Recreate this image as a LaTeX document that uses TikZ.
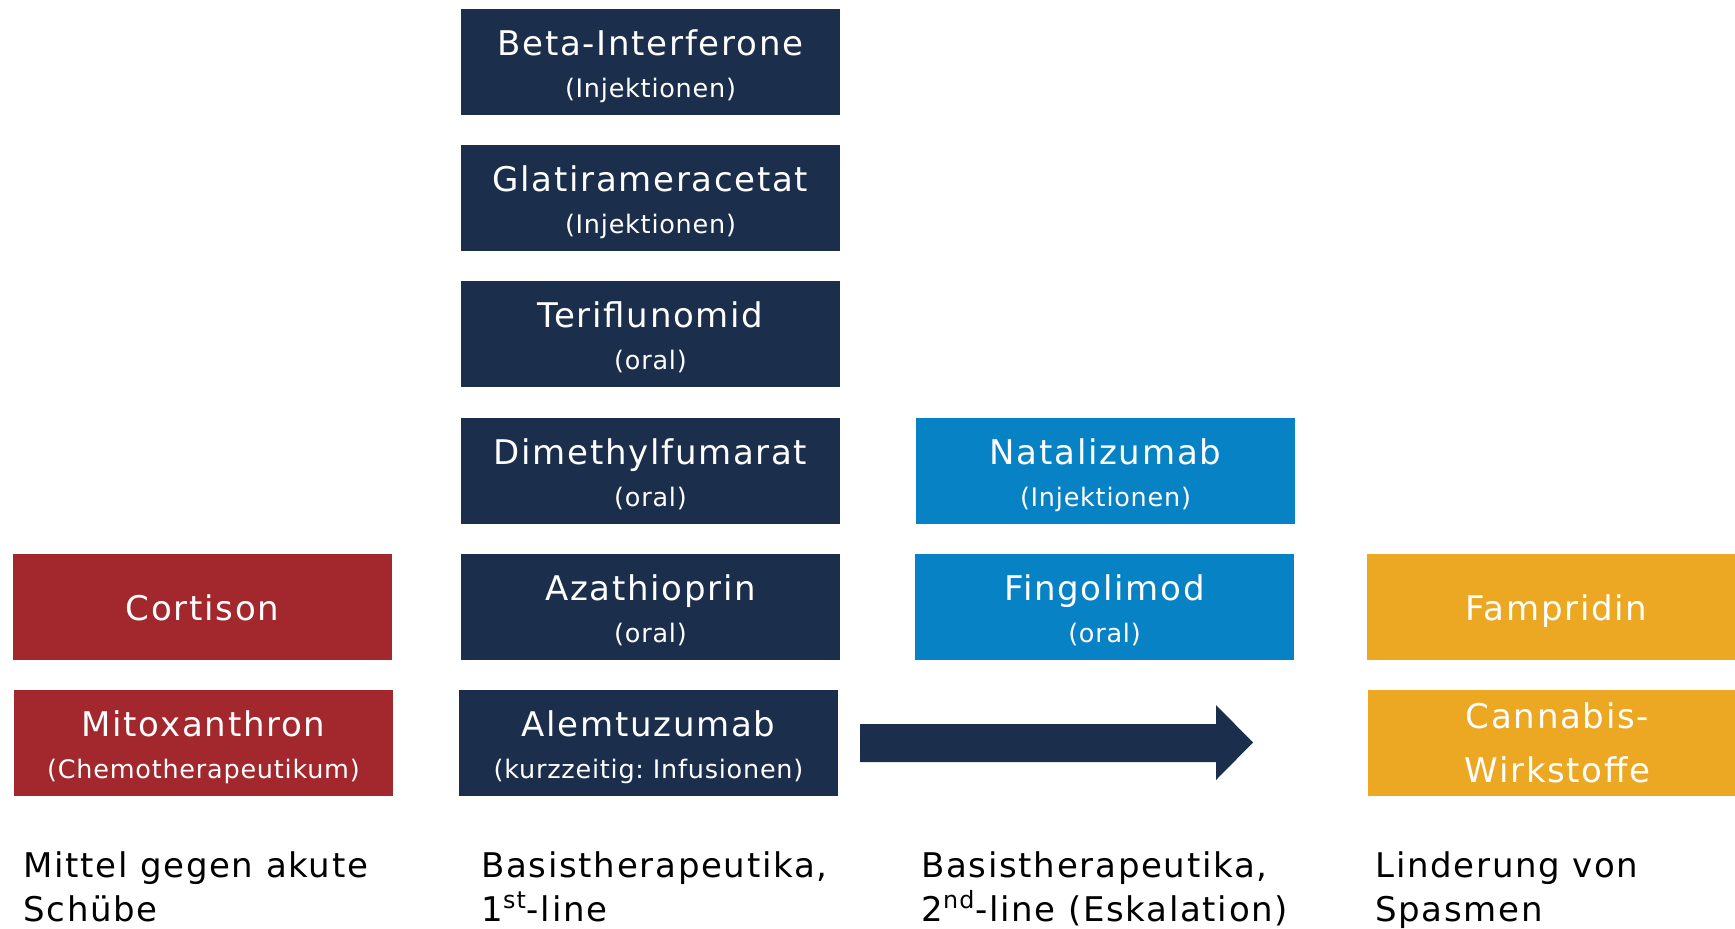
\documentclass[tikz,border=0pt]{standalone}
\usepackage{fontspec}
\setmainfont{DejaVu Sans}
\newfontfamily\boxfont[LetterSpace=5]{DejaVu Sans}
\newfontfamily\subfont[LetterSpace=3]{DejaVu Sans}
\newfontfamily\labfont[LetterSpace=5]{DejaVu Sans}
\usetikzlibrary{calc}
\definecolor{navy}{RGB}{27,46,75}
\definecolor{msred}{RGB}{163,40,45}
\definecolor{msblue}{RGB}{7,130,197}
\definecolor{msorange}{RGB}{236,168,34}
\begin{document}
\begin{tikzpicture}[x=0.5pt,y=-0.5pt,
  box/.style={rectangle, anchor=north west, minimum width=189.5pt, minimum height=53pt, inner sep=0pt, outer sep=0pt},
  navybox/.style={box, fill=navy},
  redbox/.style={box, fill=msred},
  bluebox/.style={box, fill=msblue},
  orangebox/.style={box, fill=msorange},
  title/.style={text=white, font=\boxfont\fontsize{17}{27}\selectfont, anchor=base, inner sep=0pt, align=center},
  sub/.style={text=white, font=\subfont\fontsize{12.75}{14}\selectfont, anchor=base, inner sep=0pt},
  lab/.style={text=black, font=\labfont\fontsize{17}{22}\selectfont, anchor=base west, inner sep=0pt, align=left}
]
\useasboundingbox (0,0) rectangle (1735,928);

% red column
\node[redbox] (cort) at (13,554) {};
\node[redbox] (mito) at (14,690) {};
\node[title] (cort-t) at ($(cort.north)+(0,66)$) {Cortison};
\node[title] (mito-t) at ($(mito.north)+(0,46)$) {Mitoxanthron};
\node[sub] (mito-s) at ($(mito.north)+(0,88)$) {(Chemotherapeutikum)};

% navy column
\node[navybox] (beta) at (461,9) {};
\node[navybox] (glat) at (461,145) {};
\node[navybox] (teri) at (461,281) {};
\node[navybox] (dime) at (461,418) {};
\node[navybox] (azat) at (461,554) {};
\node[navybox] (alem) at (459,690) {};
\node[title] (beta-t) at ($(beta.north)+(0,46)$) {Beta-Interferone};
\node[sub] (beta-s) at ($(beta.north)+(0,88)$) {(Injektionen)};
\node[title] (glat-t) at ($(glat.north)+(0,46)$) {Glatirameracetat};
\node[sub] (glat-s) at ($(glat.north)+(0,88)$) {(Injektionen)};
\node[title] (teri-t) at ($(teri.north)+(0,46)$) {Teriflunomid};
\node[sub] (teri-s) at ($(teri.north)+(0,88)$) {(oral)};
\node[title] (dime-t) at ($(dime.north)+(0,46)$) {Dimethylfumarat};
\node[sub] (dime-s) at ($(dime.north)+(0,88)$) {(oral)};
\node[title] (azat-t) at ($(azat.north)+(0,46)$) {Azathioprin};
\node[sub] (azat-s) at ($(azat.north)+(0,88)$) {(oral)};
\node[title] (alem-t) at ($(alem.north)+(0,46)$) {Alemtuzumab};
\node[sub] (alem-s) at ($(alem.north)+(0,88)$) {(kurzzeitig:\ Infusionen)};

% blue column
\node[bluebox] (nata) at (916,418) {};
\node[bluebox] (fing) at (915,554) {};
\node[title] (nata-t) at ($(nata.north)+(0,46)$) {Natalizumab};
\node[sub] (nata-s) at ($(nata.north)+(0,88)$) {(Injektionen)};
\node[title] (fing-t) at ($(fing.north)+(0,46)$) {Fingolimod};
\node[sub] (fing-s) at ($(fing.north)+(0,88)$) {(oral)};

% orange column
\node[orangebox] (famp) at (1367,554) {};
\node[orangebox] (cann) at (1368,690) {};
\node[title] (famp-t) at ($(famp.north)+(0,66)$) {Fampridin};
\node[title] (cann-t) at ($(cann.north)+(0,92)$) {Cannabis-\\Wirkstoffe};

% arrow
\fill[navy] (860,724) -- (1216,724) -- (1216,705) -- (1253,742.5) -- (1216,780) -- (1216,762) -- (860,762) -- cycle;

% bottom labels (anchored at the baseline of the second line)
\node[lab] (l1) at (23,921) {Mittel gegen akute\\Schübe};
\node[lab] (l2) at (481,921) {Basistherapeutika,\\1\textsuperscript{st}-line};
\node[lab] (l3) at (921,921) {Basistherapeutika,\\2\textsuperscript{nd}-line (Eskalation)};
\node[lab] (l4) at (1375,921) {Linderung von\\Spasmen};
\end{tikzpicture}
\end{document}
